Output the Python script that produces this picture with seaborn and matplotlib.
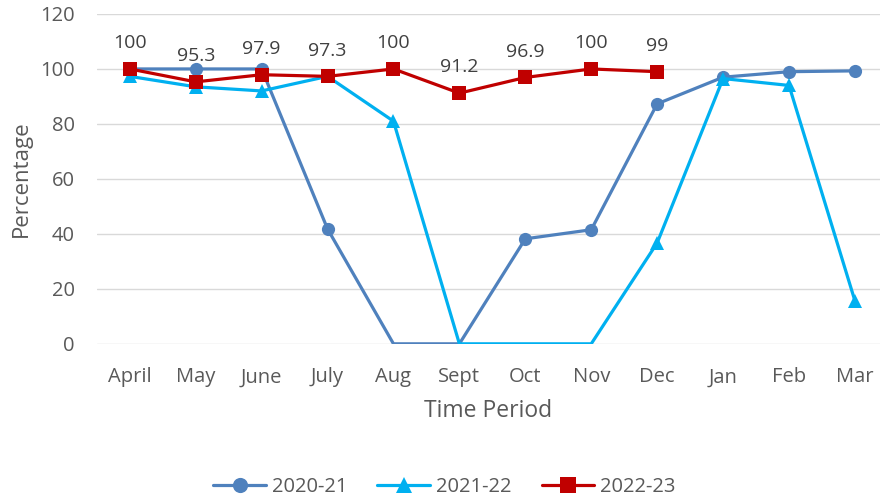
import numpy as np
import pandas as pd
import matplotlib
matplotlib.use("Agg")
import matplotlib.pyplot as plt
import seaborn as sns

months = ["April", "May", "June", "July", "Aug", "Sept", "Oct", "Nov", "Dec", "Jan", "Feb", "Mar"]
y2020_21 = [100, 100, 100, 41.8, 0, 0, 38.2, 41.5, 87.3, 97, 99, 99.3]
y2021_22 = [97.3, 93.5, 92, 97.3, 81, 0, 0, 0, 36.7, 96.5, 94, 15.6]
y2022_23 = [100, 95.3, 97.9, 97.3, 100, 91.2, 96.9, 100, 99]

sns.set_theme(style="white")
plt.rcParams["font.family"] = ["Open Sans", "DejaVu Sans"]

fig = plt.figure(figsize=(8.8, 4.99), dpi=100)
ax = fig.add_axes([0.11, 0.311, 0.89, 0.661])

series = [
    ("2020-21", y2020_21, "#4F81BD", "o"),
    ("2021-22", y2021_22, "#00B0F0", "^"),
    ("2022-23", y2022_23, "#C00000", "s"),
]

for name, vals, color, mk in series:
    df = pd.DataFrame({"x": np.arange(len(vals)), "y": vals})
    show = [i for i, v in enumerate(vals) if v > 0]
    sns.lineplot(data=df, x="x", y="y", ax=ax, color=color, linewidth=2.3,
                 marker=mk, markersize=9.5, markeredgewidth=0, markevery=show,
                 label=name)

for i, v in enumerate(y2022_23):
    ax.annotate(f"{v:g}", (i, v), xytext=(0, 12), textcoords="offset points",
                ha="center", va="bottom", fontsize=14, color="#404040")

ax.set_xlim(-0.5, 11.38)
ax.set_ylim(0, 120)
ax.set_yticks(range(0, 121, 20))
ax.set_xticks(range(len(months)))
ax.set_xticklabels(months)
ax.grid(axis="y", color="#D9D9D9", linewidth=1)
for s in ax.spines.values():
    s.set_visible(False)
ax.tick_params(axis="both", length=0, labelsize=14.5, labelcolor="#595959")
ax.tick_params(axis="x", pad=17)
ax.tick_params(axis="y", pad=16)
ax.set_xlabel("Time Period", fontsize=16.5, color="#595959", labelpad=8)
ax.set_ylabel("Percentage", fontsize=16, color="#595959", labelpad=6)

ax.legend(loc="center", bbox_to_anchor=(0.505, 0.024), bbox_transform=fig.transFigure,
          ncol=3, frameon=False, fontsize=14.5, labelcolor="#595959",
          handlelength=2.6, columnspacing=1.5, handletextpad=0.3, markerscale=1.15)

fig.savefig("out.png", dpi=100)
